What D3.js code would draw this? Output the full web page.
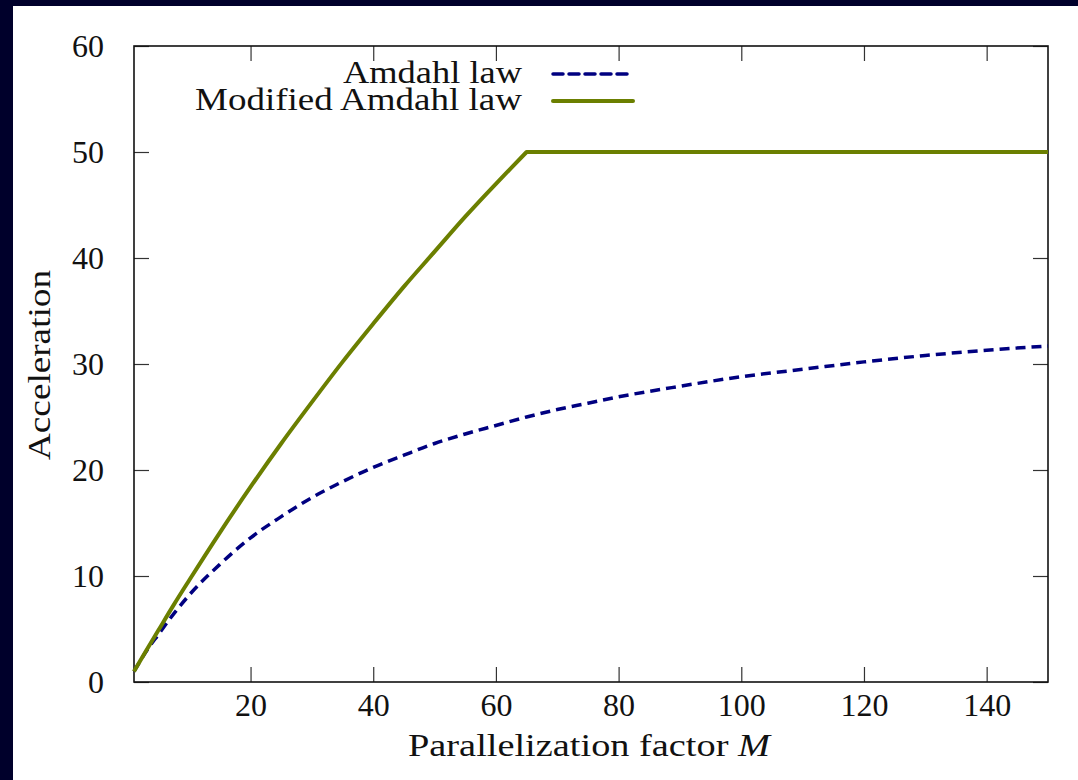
<!DOCTYPE html>
<html>
<head>
<meta charset="utf-8">
<script src="https://cdn.jsdelivr.net/npm/d3@7"></script>
<style>
  html, body { margin: 0; padding: 0; background: #00002b; }
  svg { display: block; }
  text { font-family: "Liberation Serif", "DejaVu Serif", serif; fill: #111; }
</style>
</head>
<body>
<svg id="chart" width="1078" height="780"></svg>
<script>
// parallelization factor M
const mValues = [1, 3, 5, 7.5, 10, 15, 20, 25, 30, 35, 40, 45, 50, 55, 60, 65, 70, 75, 80, 90, 100, 110, 120, 130, 140, 150];
// Amdahl law acceleration
const amdahl = [1, 2.9, 4.5, 6.45, 8.2, 11.1, 13.6, 15.6, 17.4, 18.9, 20.25, 21.4, 22.5, 23.4, 24.2, 25.0, 25.7, 26.3, 26.9, 27.9, 28.8, 29.5, 30.2, 30.8, 31.3, 31.7];
// modified Amdahl law acceleration (saturates at 50 from M = 65)
const modifiedM = [1, 3, 5, 7.5, 10, 15, 20, 25, 30, 35, 40, 45, 50, 55, 60, 62.5, 65, 150];
const modified = [1, 2.97, 4.9, 7.3, 9.6, 14.1, 18.4, 22.5, 26.4, 30.2, 33.8, 37.3, 40.6, 43.9, 47.0, 48.5, 50.0, 50.0];

const xTicks = [20, 40, 60, 80, 100, 120, 140];
const yTicks = [0, 10, 20, 30, 40, 50, 60];
const seriesNames = ['Amdahl law', 'Modified Amdahl law'];

const svg = d3.select('#chart');

// white panel over the dark frame
svg.append('rect')
  .attr('x', 13).attr('y', 6)
  .attr('width', 1078 - 13).attr('height', 780 - 6)
  .attr('fill', '#fff');

const margin = { top: 46, right: 30, bottom: 98, left: 134 };
const width = 1078 - margin.left - margin.right;
const height = 780 - margin.top - margin.bottom;

const x = d3.scaleLinear().domain([1, 150]).range([margin.left, margin.left + width]);
const y = d3.scaleLinear().domain([0, 60]).range([margin.top + height, margin.top]);

const tickLen = 15;
const fontSize = 32;

// ticks (inward, mirrored)
const axisG = svg.append('g');
axisG.append('g')
  .attr('transform', `translate(0,${y(0)})`)
  .call(d3.axisBottom(x).tickValues(xTicks).tickSize(-tickLen).tickPadding(11))
  .call(g => g.select('.domain').remove());
axisG.append('g')
  .attr('transform', `translate(0,${y(60)})`)
  .call(d3.axisTop(x).tickValues(xTicks).tickSize(-tickLen).tickFormat(''))
  .call(g => g.select('.domain').remove());
axisG.append('g')
  .attr('transform', `translate(${x(1)},0)`)
  .call(d3.axisLeft(y).tickValues(yTicks).tickSize(-tickLen).tickPadding(30))
  .call(g => g.select('.domain').remove());
axisG.append('g')
  .attr('transform', `translate(${x(150)},0)`)
  .call(d3.axisRight(y).tickValues(yTicks).tickSize(-tickLen).tickFormat(''))
  .call(g => g.select('.domain').remove());

axisG.selectAll('.tick line').attr('stroke', '#333').attr('stroke-width', 1.2);
axisG.selectAll('.tick text')
  .attr('font-family', '"Liberation Serif", "DejaVu Serif", serif')
  .attr('font-size', fontSize)
  .attr('fill', '#111');

// frame
svg.append('rect')
  .attr('x', x(1)).attr('y', y(60))
  .attr('width', x(150) - x(1)).attr('height', y(0) - y(60))
  .attr('fill', 'none')
  .attr('stroke', '#111')
  .attr('stroke-width', 1.6);

// curves
const line = d3.line()
  .x(d => x(d[0]))
  .y(d => y(d[1]))
  .curve(d3.curveMonotoneX);

const plot = svg.append('g');
plot.append('path')
  .datum(mValues.map((m, i) => [m, amdahl[i]]))
  .attr('d', line)
  .attr('fill', 'none')
  .attr('stroke', '#000080')
  .attr('stroke-width', 3.5)
  .attr('stroke-dasharray', '10,6');

// rising part smoothed, plateau drawn straight so the corner stays sharp
const modPts = modifiedM.map((m, i) => [m, modified[i]]);
const flatStart = modified.indexOf(d3.max(modified));
const risePath = line(modPts.slice(0, flatStart + 1));
const flatPath = d3.line().x(d => x(d[0])).y(d => y(d[1]))(modPts.slice(flatStart));
plot.append('path')
  .attr('d', risePath + 'L' + flatPath.slice(1))
  .attr('fill', 'none')
  .attr('stroke', '#6b7f00')
  .attr('stroke-width', 4)
  .attr('stroke-linejoin', 'round');

// legend
const legend = svg.append('g');
const legendStyles = [
  { color: '#000080', dash: '10,6', width: 3.5, textLen: 179 },
  { color: '#6b7f00', dash: null, width: 4, textLen: 327 }
];
seriesNames.forEach((name, i) => {
  const ly = 74 + i * 27;
  legend.append('text')
    .attr('x', 522).attr('y', ly + 9)
    .attr('text-anchor', 'end')
    .attr('font-size', fontSize)
    .attr('textLength', legendStyles[i].textLen)
    .attr('lengthAdjust', 'spacingAndGlyphs')
    .text(name);
  legend.append('line')
    .attr('x1', 553).attr('x2', 633)
    .attr('y1', ly).attr('y2', ly)
    .attr('stroke', legendStyles[i].color)
    .attr('stroke-width', legendStyles[i].width)
    .attr('stroke-dasharray', legendStyles[i].dash)
    .attr('stroke-linecap', 'round');
});

// axis titles
const xt = svg.append('text')
  .attr('x', 589).attr('y', 756)
  .attr('text-anchor', 'middle')
  .attr('font-size', fontSize)
  .attr('textLength', 362)
  .attr('lengthAdjust', 'spacingAndGlyphs');
xt.append('tspan').text('Parallelization factor ');
xt.append('tspan').attr('font-style', 'italic').text('M');

svg.append('text')
  .attr('transform', 'translate(50,365) rotate(-90)')
  .attr('text-anchor', 'middle')
  .attr('font-size', fontSize)
  .attr('textLength', 190)
  .attr('lengthAdjust', 'spacingAndGlyphs')
  .text('Acceleration');
</script>
</body>
</html>
